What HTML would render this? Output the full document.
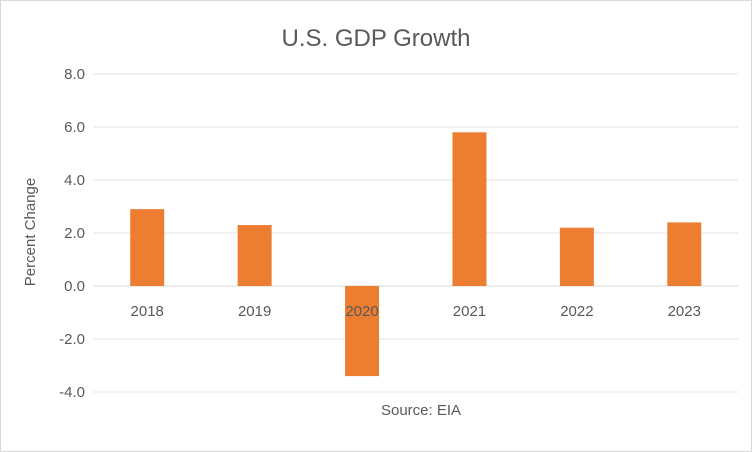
<!DOCTYPE html>
<html><head><meta charset="utf-8"><style>
body{margin:0;background:#fff;}
svg{display:block;font-family:"Liberation Sans",Calibri,sans-serif;}
</style></head><body>
<svg id="chart" width="752" height="452">
<rect x="0.5" y="0.5" width="751" height="451" fill="#fff" stroke="#d9d9d9"/>
<text x="376" y="46" text-anchor="middle" font-size="24" fill="#595959">U.S. GDP Growth</text>
<text transform="translate(35,232) rotate(-90)" text-anchor="middle" font-size="15" fill="#595959">Percent Change</text>
<text x="421" y="415" text-anchor="middle" font-size="15" fill="#595959">Source: EIA</text>
<g id="grid"></g><g id="bars"></g><g id="labels"></g>
</svg>
<script>
const categories=["2018","2019","2020","2021","2022","2023"];
const growth=[2.9,2.3,-3.4,5.8,2.2,2.4];
const ticks=[8,6,4,2,0,-2,-4];
const NS="http://www.w3.org/2000/svg";
const x0=93.5,x1=738,y0=286,ppu=26.5;
const yS=v=>y0-v*ppu;
const bw=(x1-x0)/categories.length;
const xS=i=>x0+bw*(i+0.5);
function mk(t,a,p){const e=document.createElementNS(NS,t);for(const k in a)e.setAttribute(k,a[k]);p.appendChild(e);return e;}
const g=document.getElementById('grid'),b=document.getElementById('bars'),l=document.getElementById('labels');
ticks.forEach(v=>{
 const ln=mk('line',{x1:x0,x2:x1,y1:yS(v),y2:yS(v),stroke:v===0?'#d9d9d9':'#e3e3e3','stroke-width':1},g);
 
 
 const t=mk('text',{x:85,y:yS(v)+5,'text-anchor':'end','font-size':15,fill:'#595959'},g);
 t.textContent=v.toFixed(1);
 
 
});
growth.forEach((v,i)=>{
 const r=mk('rect',{x:xS(i)-17,y:Math.min(yS(v),y0),width:34,height:Math.abs(v)*ppu,fill:'#ed7d31'},b);
 
 
 const t=mk('text',{x:xS(i),y:y0+30,'text-anchor':'middle','font-size':15,fill:'#595959'},l);
 t.textContent=categories[i];
 
 
});
</script>
</body></html>
